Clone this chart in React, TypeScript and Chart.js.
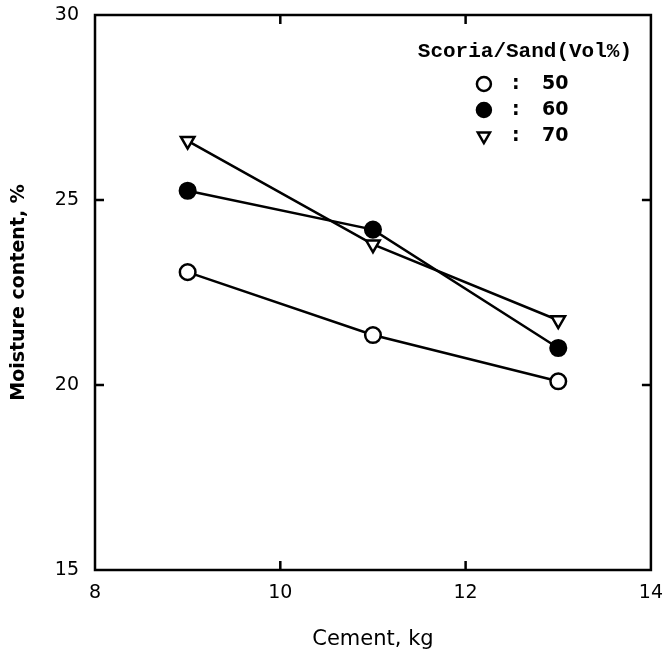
import React, { useEffect, useRef } from 'react';
import { Chart, registerables } from 'chart.js';

Chart.register(...registerables);

// ---- data ----
const cementKg = [9, 11, 13];
const moisture50 = [23.05, 21.35, 20.1];
const moisture60 = [25.25, 24.2, 21.0];
const moisture70 = [26.6, 23.8, 21.75];
const seriesLabels = ['50', '60', '70'];
const legendTitle = 'Scoria/Sand(Vol%)';
const xTicks = [8, 10, 12, 14];
const yTicks = [15, 20, 25, 30];
const xTitle = 'Cement, kg';
const yTitle = 'Moisture content, %';

const toPoints = (ys: number[]) => ys.map((y, i) => ({ x: cementKg[i], y }));

function drawMarker(ctx: CanvasRenderingContext2D, style: string, rotation: number, x: number, y: number, r: number, fill: string) {
  ctx.beginPath();
  if (style === 'triangle') {
    let rad = (rotation * Math.PI) / 180;
    const step = (2 * Math.PI) / 3;
    ctx.moveTo(x + Math.sin(rad) * r, y - Math.cos(rad) * r);
    rad += step;
    ctx.lineTo(x + Math.sin(rad) * r, y - Math.cos(rad) * r);
    rad += step;
    ctx.lineTo(x + Math.sin(rad) * r, y - Math.cos(rad) * r);
    ctx.closePath();
  } else {
    ctx.arc(x, y, r, 0, Math.PI * 2);
  }
  ctx.fillStyle = fill;
  ctx.fill();
  ctx.lineWidth = 2.5;
  ctx.strokeStyle = '#000';
  ctx.stroke();
}

const framePlugin = {
  id: 'frameTicks',
  beforeDatasetsDraw(chart: any) {
    const { ctx, chartArea: a, scales } = chart;
    const len = 9;
    ctx.save();
    ctx.strokeStyle = '#000';
    ctx.lineWidth = 2.5;
    ctx.strokeRect(a.left, a.top, a.right - a.left, a.bottom - a.top);
    ctx.beginPath();
    scales.x.ticks.forEach((t: any) => {
      if (t.value === scales.x.min || t.value === scales.x.max) return;
      const px = scales.x.getPixelForValue(t.value);
      ctx.moveTo(px, a.bottom);
      ctx.lineTo(px, a.bottom - len);
      ctx.moveTo(px, a.top);
      ctx.lineTo(px, a.top + len);
    });
    scales.y.ticks.forEach((t: any) => {
      if (t.value === scales.y.min || t.value === scales.y.max) return;
      const py = scales.y.getPixelForValue(t.value);
      ctx.moveTo(a.left, py);
      ctx.lineTo(a.left + len, py);
      ctx.moveTo(a.right, py);
      ctx.lineTo(a.right - len, py);
    });
    ctx.stroke();
    ctx.restore();
  },
};

const legendPlugin = {
  id: 'customLegend',
  afterDraw(chart: any) {
    const { ctx, chartArea: a } = chart;
    ctx.save();
    ctx.fillStyle = '#000';
    ctx.textBaseline = 'middle';
    ctx.textAlign = 'center';
    ctx.font = 'bold 21px "Liberation Mono"';
    ctx.fillText(legendTitle, a.right - 126, a.top + 37);
    const rowY = [69, 95, 121];
    chart.data.datasets.forEach((ds: any, i: number) => {
      const y = a.top + rowY[i];
      drawMarker(ctx, ds.pointStyle, ds.pointRotation || 0, a.right - 167, y, 7, ds.pointBackgroundColor);
      ctx.fillStyle = '#000';
      ctx.font = 'bold 19px "DejaVu Sans"';
      ctx.textAlign = 'center';
      ctx.fillText(':', a.right - 135, y);
      ctx.textAlign = 'left';
      ctx.fillText(seriesLabels[i], a.right - 109, y);
    });
    ctx.restore();
  },
};

export default function App() {
  const ref = useRef<HTMLCanvasElement>(null);

  useEffect(() => {
    const common = {
      borderColor: '#000',
      borderWidth: 2.5,
      pointBorderColor: '#000',
      pointBorderWidth: 2.5,
      tension: 0,
      showLine: true,
    };
    const hiddenTicks = (len: number) => ({
      display: true,
      drawOnChartArea: false,
      drawTicks: true,
      tickLength: len,
      tickColor: 'rgba(0,0,0,0)',
      color: 'rgba(0,0,0,0)',
    });
    const chart = new Chart(ref.current as HTMLCanvasElement, {
      type: 'scatter',
      data: {
        datasets: [
          { ...common, label: seriesLabels[0], data: toPoints(moisture50), pointStyle: 'circle', pointRadius: 7.8, pointBackgroundColor: '#fff' },
          { ...common, label: seriesLabels[1], data: toPoints(moisture60), pointStyle: 'circle', pointRadius: 7.8, pointBackgroundColor: '#000' },
          { ...common, label: seriesLabels[2], data: toPoints(moisture70), pointStyle: 'triangle', pointRotation: 180, pointRadius: 7.8, pointBackgroundColor: '#fff' },
        ] as any,
      },
      options: {
        animation: false,
        responsive: false,
        devicePixelRatio: 1,
        layout: { padding: { left: 0, top: 15, right: 10, bottom: 0 } },
        plugins: { legend: { display: false }, tooltip: { enabled: false } },
        scales: {
          x: {
            type: 'linear',
            min: xTicks[0],
            max: xTicks[xTicks.length - 1],
            afterBuildTicks: (s: any) => { s.ticks = xTicks.map((v) => ({ value: v })); },
            afterFit: (s: any) => { s.height = 86; },
            grid: hiddenTicks(12),
            border: { display: false },
            ticks: { color: '#000', padding: 0, font: { family: 'DejaVu Sans', size: 19 } },
            title: { display: true, text: xTitle, color: '#000', padding: { top: 4, bottom: 4 }, font: { family: 'DejaVu Sans', size: 21 } },
          },
          y: {
            type: 'linear',
            min: yTicks[0],
            max: yTicks[yTicks.length - 1],
            afterBuildTicks: (s: any) => { s.ticks = yTicks.map((v) => ({ value: v })); },
            afterFit: (s: any) => { s.width = 95; },
            grid: hiddenTicks(16),
            border: { display: false },
            ticks: { color: '#000', padding: 0, font: { family: 'DejaVu Sans', size: 19 } },
            title: { display: true, text: yTitle, color: '#000', padding: { top: 8, bottom: 4 }, font: { family: 'DejaVu Sans', size: 19, weight: 'bold' } },
          },
        },
      } as any,
      plugins: [framePlugin, legendPlugin],
    });
    return () => chart.destroy();
  }, []);

  return (
    <div style={{ position: 'absolute', left: 0, top: 0, width: 663, height: 656, background: '#fff' }}>
      <canvas ref={ref} width={663} height={656} style={{ display: 'block' }} />
    </div>
  );
}
